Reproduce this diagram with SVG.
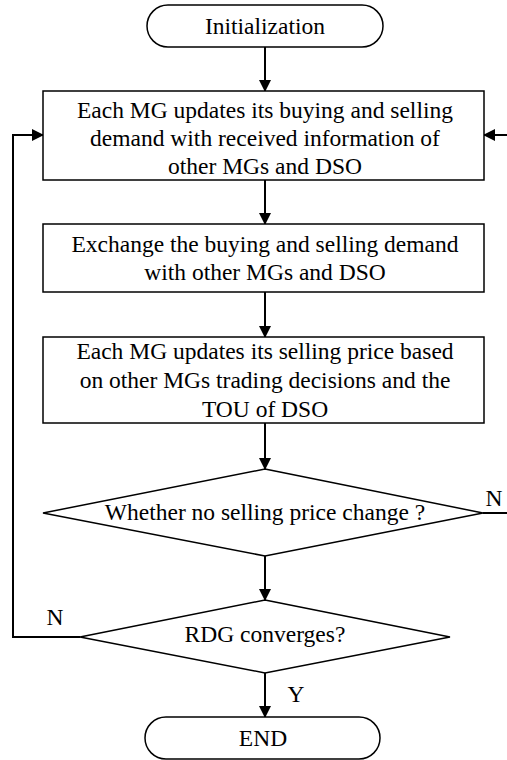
<svg xmlns="http://www.w3.org/2000/svg" width="507" height="760" viewBox="0 0 507 760">
<defs>
<marker id="ah" markerWidth="12" markerHeight="12" refX="11" refY="6" orient="auto" markerUnits="userSpaceOnUse">
<path d="M0,0 L12,6 L0,12 Z" fill="#000"/>
</marker>
</defs>
<style>
.s{fill:#fff;stroke:#000;stroke-width:1.5}
text{font-family:'Liberation Serif','Times New Roman','DejaVu Serif',serif;font-size:23.5px;fill:#000;text-anchor:middle}
.c{fill:none;stroke:#000;stroke-width:2}
</style>
<rect width="507" height="760" fill="#fff"/>
<g id="connectors">
<line class="c" x1="265" y1="47" x2="265" y2="91" marker-end="url(#ah)"/>
<line class="c" x1="265" y1="180" x2="265" y2="224" marker-end="url(#ah)"/>
<line class="c" x1="265" y1="292" x2="265" y2="337" marker-end="url(#ah)"/>
<line class="c" x1="265" y1="423" x2="265" y2="469" marker-end="url(#ah)"/>
<line class="c" x1="265" y1="556" x2="265" y2="600" marker-end="url(#ah)"/>
<line class="c" x1="265" y1="673" x2="265" y2="717" marker-end="url(#ah)"/>
<polyline class="c" points="80,637 13,637 13,135 43,135" marker-end="url(#ah)"/>
<line class="c" x1="483" y1="513" x2="507" y2="513"/>
<line class="c" x1="507" y1="135" x2="484" y2="135" marker-end="url(#ah)"/>
<text x="494" y="506" font-family="Liberation Serif, serif">N</text>
<text x="55" y="625" font-family="Liberation Serif, serif">N</text>
<text x="296" y="702" font-family="Liberation Serif, serif">Y</text>
</g>
<g id="init">
<rect class="s" x="147" y="5" width="236" height="42" rx="21"/>
<text x="265" y="34" font-family="Liberation Serif, serif">Initialization</text>
</g>
<g id="update-demand">
<rect class="s" x="43" y="91" width="441" height="89"/>
<text x="265" y="118" font-family="Liberation Serif, serif">Each MG updates its buying and selling</text>
<text x="265" y="146" font-family="Liberation Serif, serif">demand with received information of</text>
<text x="265" y="174" font-family="Liberation Serif, serif">other MGs and DSO</text>
</g>
<g id="exchange">
<rect class="s" x="43" y="224" width="441" height="68"/>
<text x="265" y="252" font-family="Liberation Serif, serif">Exchange the buying and selling demand</text>
<text x="265" y="280" font-family="Liberation Serif, serif">with other MGs and DSO</text>
</g>
<g id="update-price">
<rect class="s" x="43" y="337" width="441" height="86"/>
<text x="265" y="359" font-family="Liberation Serif, serif">Each MG updates its selling price based</text>
<text x="265" y="388" font-family="Liberation Serif, serif">on other MGs trading decisions and the</text>
<text x="265" y="417" font-family="Liberation Serif, serif">TOU of DSO</text>
</g>
<g id="price-change">
<polygon class="s" points="265,469 483,513 265,556 43,513"/>
<text x="265" y="520" font-family="Liberation Serif, serif">Whether no selling price change ?</text>
</g>
<g id="converges">
<polygon class="s" points="265,600 450,637 265,673 80,637"/>
<text x="265" y="642" font-family="Liberation Serif, serif">RDG converges?</text>
</g>
<g id="end">
<rect class="s" x="145" y="717" width="235" height="42" rx="21"/>
<text x="263" y="746" font-family="Liberation Serif, serif">END</text>
</g>
</svg>
